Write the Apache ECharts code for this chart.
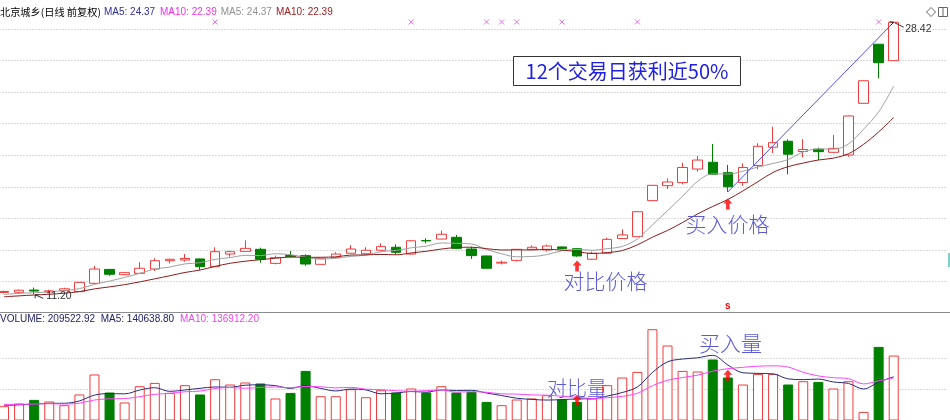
<!DOCTYPE html>
<html><head><meta charset="utf-8">
<script src="https://cdn.jsdelivr.net/npm/echarts@6.0.0/dist/echarts.min.js"></script>
<style>html,body{margin:0;padding:0;background:#fff}#c{width:950px;height:420px}</style>
</head><body><div id="c"></div>
<script>
// ---------------- data ----------------
const categories = Array.from({length: 60}, (_, i) => 'D' + (i + 1));
const opens = [11.32, 11.33, 11.47, 11.36, 11.45, 11.37, 11.90, 12.78, 12.44, 12.53,
  12.80, 13.33, 13.37, 13.44, 12.95, 13.75, 13.92, 14.05, 13.16, 13.66,
  13.65, 13.10, 13.52, 13.80, 13.77, 13.99, 14.18, 13.75, 14.61, 14.70,
  14.81, 14.07, 13.63, 13.18, 13.35, 14.05, 14.01, 14.20, 14.09, 13.42,
  13.80, 14.73, 14.85, 17.13, 18.08, 18.27, 19.13, 19.56, 18.90, 18.28,
  19.35, 20.51, 20.89, 20.24, 20.38, 20.19, 20.02, 23.29, 27.03, 25.99];
const closes = [11.38, 11.46, 11.41, 11.42, 11.55, 11.96, 12.80, 12.47, 12.57, 12.85,
  13.33, 13.42, 13.47, 12.95, 13.90, 13.90, 14.11, 13.42, 13.52, 13.59,
  13.12, 13.48, 13.75, 14.07, 13.99, 14.22, 13.86, 14.59, 14.58, 15.00,
  14.11, 13.65, 12.85, 13.23, 14.05, 14.18, 14.26, 14.09, 13.63, 13.80,
  14.68, 14.96, 16.43, 18.10, 18.31, 19.23, 19.70, 18.80, 18.01, 19.23,
  20.57, 20.80, 20.07, 20.37, 20.23, 20.44, 22.49, 24.72, 25.86, 28.42];
const lows = [11.25, 11.28, 11.20, 11.28, 11.40, 11.35, 11.85, 12.38, 12.40, 12.52,
  12.68, 13.16, 13.27, 12.74, 12.93, 13.58, 13.90, 13.20, 13.10, 13.52,
  13.01, 13.09, 13.48, 13.78, 13.75, 13.97, 13.73, 13.73, 14.43, 14.68,
  14.07, 13.44, 12.82, 13.09, 13.27, 14.01, 13.91, 14.07, 13.58, 13.37,
  13.78, 14.71, 14.83, 17.11, 17.87, 18.16, 18.96, 18.79, 17.68, 18.06,
  19.11, 20.15, 18.80, 19.88, 19.70, 20.13, 19.91, 23.28, 24.87, 25.97];
const highs = [11.44, 11.51, 11.63, 11.50, 11.62, 11.98, 12.99, 12.80, 12.62, 13.23,
  13.48, 13.44, 13.75, 13.47, 14.18, 13.96, 14.61, 14.15, 13.65, 13.94,
  13.73, 13.50, 13.86, 14.32, 14.18, 14.43, 14.37, 14.62, 14.75, 15.23,
  14.96, 14.22, 13.65, 13.34, 14.07, 14.30, 14.35, 14.22, 14.11, 13.90,
  14.78, 15.32, 16.44, 18.12, 18.54, 19.53, 19.96, 20.72, 19.39, 19.49,
  20.76, 21.81, 21.00, 21.02, 20.48, 21.28, 22.52, 24.73, 27.04, 28.42];
const volumes = [46100, 54800, 66500, 61300, 49400, 83900, 148400, 90300, 58100, 110600,
  121300, 89000, 113900, 83900, 133200, 116100, 122600, 119400, 71000, 89000,
  160000, 78400, 78400, 101000, 75200, 97700, 90300, 103200, 90300, 110600,
  90300, 92300, 60000, 49400, 67700, 71000, 81600, 67700, 60000, 71000,
  113900, 138700, 156800, 294500, 241900, 160000, 158100, 196800, 138700, 116100,
  150300, 150300, 116100, 126800, 124500, 103200, 126800, 27700, 237400, 209523];
// estimated sessions before the visible window (only feed the moving averages)
const priorCloses = [10.90, 10.85, 10.95, 10.90, 10.92, 11.10, 11.20, 11.15, 11.12];
const priorVolumes = [52000, 58000, 49000, 61000, 55000, 47000, 53000, 50000, 48000];
// event markers (day indices) and annotated days
const markerDays = [14, 27, 32, 33, 34, 37, 42, 58];
const compareDay = 38;
const buyDay = 48;
const priceTicks = [12, 14, 16, 18, 20, 22, 24, 26, 28];
const priceLegend = ['北京城乡(日线 前复权)', 'MA5: 24.37', 'MA10: 22.39', 'MA5: 24.37', 'MA10: 22.39'];
const volumeLegend = ['VOLUME: 209522.92', 'MA5: 140638.80', 'MA10: 136912.20'];
const annotationTexts = ['12个交易日获利近50%', '对比价格', '买入价格', '对比量', '买入量'];

// ---------------- helpers ----------------
function movingAverage(values, prior, n) {
  const all = prior.concat(values);
  return values.map((_, i) => {
    let s = 0;
    for (let k = 0; k < n; k++) s += all[prior.length + i - k];
    return +(s / n).toFixed(3);
  });
}
const ma5 = movingAverage(closes, priorCloses, 5);
const ma10 = movingAverage(closes, priorCloses, 10);
const vma5 = movingAverage(volumes, priorVolumes, 5);
const vma10 = movingAverage(volumes, priorVolumes, 10);
const axisCats = categories.concat(['pad1', 'pad2', 'pad3']);

const RED = '#f03c3c', GREEN = '#008000';
const gridLeft = -3.54, gridWidth = 950.04;
const markerLevel = 28.44;
const arrowPath = 'path://M5,0L10,5L7,5L7,11L3,11L3,5L0,5Z';

const priceArrowLevels = [13.0, 16.92];
const volArrowLevels = [65500, 146000];

const splitStyle = {show: true, showMinLine: false, showMaxLine: false,
  lineStyle: {color: '#b4b4b4', type: [1, 2], width: 1}};

const chart = echarts.init(document.getElementById('c'), null, {renderer: 'canvas', width: 950, height: 420});

const option = {
  animation: false,
  backgroundColor: '#ffffff',
  grid: [
    {left: gridLeft, width: gridWidth, top: 0, height: 313.3, outerBoundsMode: 'none', containLabel: false},
    {left: gridLeft, width: gridWidth, bottom: -0.5, height: 92.69, outerBoundsMode: 'none', containLabel: false}
  ],
  xAxis: [
    {type: 'category', gridIndex: 0, data: axisCats, boundaryGap: true, show: false},
    {type: 'category', gridIndex: 1, data: axisCats, boundaryGap: true, show: false}
  ],
  yAxis: [
    {type: 'value', gridIndex: 0, min: 10, max: 29.829, interval: 2, scale: true,
      axisLine: {show: false}, axisTick: {show: false}, axisLabel: {show: false}, splitLine: splitStyle},
    {type: 'value', gridIndex: 1, min: 0, max: 299000, interval: 100000,
      axisLine: {show: false}, axisTick: {show: false}, axisLabel: {show: false}, splitLine: splitStyle}
  ],
  series: [
    {type: 'candlestick', xAxisIndex: 0, yAxisIndex: 0, barWidth: 10, z: 2,
      data: opens.map((o, i) => [o, closes[i], lows[i], highs[i]]),
      itemStyle: {color: '#ffffff', color0: GREEN, borderColor: RED, borderColor0: GREEN, borderWidth: 1}},
    {type: 'line', xAxisIndex: 0, yAxisIndex: 0, data: ma5, smooth: 0.35, symbol: 'none', z: 3,
      lineStyle: {color: '#a0a0a0', width: 1}},
    {type: 'line', xAxisIndex: 0, yAxisIndex: 0, data: ma10, smooth: 0.35, symbol: 'none', z: 3,
      lineStyle: {color: '#8c1c1c', width: 1}},
    {type: 'line', xAxisIndex: 0, yAxisIndex: 0, symbol: 'none', z: 4,
      data: [[buyDay, lows[buyDay]], [59, highs[59]]],
      lineStyle: {color: '#5050f0', width: 1}},
    {type: 'scatter', xAxisIndex: 0, yAxisIndex: 0, z: 5,
      data: markerDays.map(d => [d, markerLevel]),
      symbol: 'path://M0,0L10,10M10,0L0,10', symbolSize: 5,
      itemStyle: {color: 'none', borderColor: '#e050e0', borderWidth: 1}},
    {type: 'scatter', xAxisIndex: 0, yAxisIndex: 0, z: 6,
      data: [[compareDay, priceArrowLevels[0]], [buyDay, priceArrowLevels[1]]],
      symbol: arrowPath, symbolSize: [9, 11], itemStyle: {color: '#ff0000'}},
    {type: 'bar', xAxisIndex: 1, yAxisIndex: 1, barWidth: 10, z: 2,
      data: volumes.map((v, i) => ({value: v, itemStyle: closes[i] >= opens[i]
        ? {color: '#ffffff', borderColor: RED, borderWidth: 1}
        : {color: GREEN, borderColor: GREEN, borderWidth: 1}}))},
    {type: 'line', xAxisIndex: 1, yAxisIndex: 1, data: vma5, smooth: 0.35, symbol: 'none', z: 3,
      lineStyle: {color: '#2a2a7a', width: 1}},
    {type: 'line', xAxisIndex: 1, yAxisIndex: 1, data: vma10, smooth: 0.35, symbol: 'none', z: 3,
      lineStyle: {color: '#ff44ff', width: 1}},
    {type: 'scatter', xAxisIndex: 1, yAxisIndex: 1, z: 6,
      data: [[compareDay, volArrowLevels[0]], [buyDay, volArrowLevels[1]]],
      symbol: arrowPath, symbolSize: [9, 11], itemStyle: {color: '#ff0000'}}
  ]
};
chart.setOption(option);

// ---------------- annotations ----------------
const px = (g, pt) => chart.convertToPixel({gridIndex: g}, pt);
const lowIdx = lows.indexOf(Math.min(...lows));
const hiIdx = highs.indexOf(Math.max(...highs));
const lowPt = px(0, [lowIdx, lows[lowIdx]]);
const hiPt = px(0, [hiIdx, highs[hiIdx]]);
const buyX = px(0, [buyDay, 20])[0];

const LAT = '"Liberation Sans", Arial, sans-serif';
const CJK = '"Noto Sans CJK SC", sans-serif';
const ANN = '#5a5ad8';
function txt(x, y, s, fill, size, family, align, weight) {
  return {type: 'text', x: x, y: y, z: 100, silent: true,
    style: {text: s, fill: fill, fontSize: size, fontFamily: family, fontWeight: weight || 'normal',
      align: align || 'left', verticalAlign: 'middle'}};
}
const g = [];
// separator between panels
g.push({type: 'line', z: 50, shape: {x1: 0, y1: 312.5, x2: 950, y2: 312.5}, style: {stroke: '#8c8c8c', lineWidth: 1}});
// legends
g.push(txt(0, 12, priceLegend[0], '#000000', 10.2, CJK));
g.push(txt(104, 12, priceLegend[1], '#2e2ea0', 10, LAT));
g.push(txt(160, 12, priceLegend[2], '#ee30ee', 10, LAT));
g.push(txt(220.7, 12, priceLegend[3], '#909090', 10, LAT));
g.push(txt(276, 12, priceLegend[4], '#a02020', 10, LAT));
g.push(txt(0, 319.5, volumeLegend[0], '#22226a', 10, LAT));
g.push(txt(100.7, 319.5, volumeLegend[1], '#22226a', 10, LAT));
g.push(txt(180, 319.5, volumeLegend[2], '#ee44ee', 10, LAT));
// top-right icons
g.push({type: 'polygon', z: 100, shape: {points: [[931, 7.5], [935.5, 12], [931, 16.5], [926.5, 12]]}, style: {fill: 'none', stroke: '#666', lineWidth: 1}});
g.push({type: 'rect', z: 100, shape: {x: 938.5, y: 7.5, width: 9, height: 9}, style: {fill: 'none', stroke: '#666', lineWidth: 1}});
g.push({type: 'line', z: 100, shape: {x1: 943, y1: 7.5, x2: 943, y2: 16.5}, style: {stroke: '#666', lineWidth: 1}});
g.push({type: 'rect', z: 100, shape: {x: 948, y: 253, width: 2, height: 14}, style: {fill: '#80d0d0'}});
// boxed headline
g.push({type: 'rect', z: 90, shape: {x: 513.5, y: 56.5, width: 227, height: 29}, style: {fill: '#ffffff', stroke: '#333333', lineWidth: 1}});
g.push(txt(627, 71.5, annotationTexts[0], '#2020e0', 20, CJK, 'center'));
// handwritten-style notes
g.push(txt(605.5, 281, annotationTexts[1], ANN, 21, CJK, 'center', 300));
g.push(txt(727.5, 224.5, annotationTexts[2], ANN, 21, CJK, 'center', 300));
g.push(txt(577, 388, annotationTexts[3], ANN, 20, CJK, 'center', 300));
g.push(txt(730.5, 343, annotationTexts[4], ANN, 21, CJK, 'center', 300));
// low / high labels
g.push({type: 'polyline', z: 100, shape: {points: [[lowPt[0] + 9, lowPt[1] + 4], [lowPt[0] + 1, lowPt[1] + 0.5]]}, style: {stroke: '#333', lineWidth: 1, fill: 'none'}});
g.push({type: 'polyline', z: 100, shape: {points: [[lowPt[0] + 1, lowPt[1] + 4], [lowPt[0] + 1, lowPt[1] + 0.5], [lowPt[0] + 4.5, lowPt[1] + 0.5]]}, style: {stroke: '#333', lineWidth: 1, fill: 'none'}});
g.push(txt(lowPt[0] + 12, lowPt[1] + 1.5, lows[lowIdx].toFixed(2), '#333333', 10.5, LAT));
g.push({type: 'polyline', z: 100, shape: {points: [[hiPt[0] + 1, hiPt[1] + 0.5], [hiPt[0] + 10, hiPt[1] + 5]]}, style: {stroke: '#333', lineWidth: 1, fill: 'none'}});
g.push({type: 'polyline', z: 100, shape: {points: [[hiPt[0] - 3, hiPt[1] + 3], [hiPt[0], hiPt[1]], [hiPt[0] - 4, hiPt[1] - 0.5]]}, style: {stroke: '#222', lineWidth: 1, fill: 'none'}});
g.push(txt(hiPt[0] + 11.5, hiPt[1] + 7, highs[hiIdx].toFixed(2), '#333333', 10.5, LAT));
// 's' signal mark
g.push(txt(buyX, 306.5, 's', '#ff0000', 10, LAT, 'center', 'bold'));
chart.setOption({graphic: g});
</script>
</body></html>
